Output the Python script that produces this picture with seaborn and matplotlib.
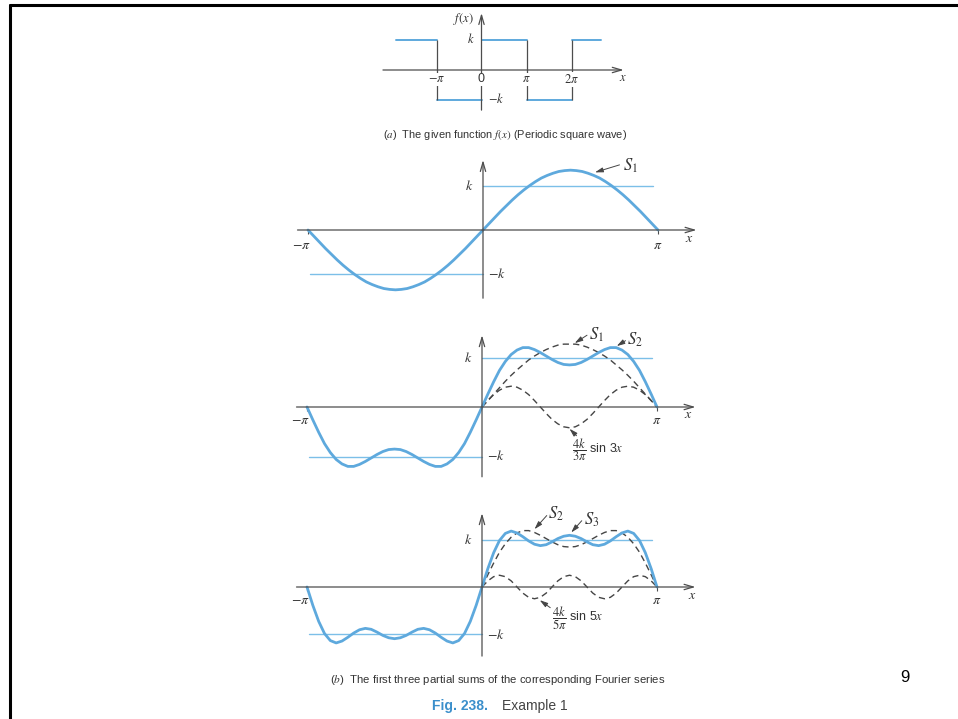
#!/usr/bin/env python3

import matplotlib
matplotlib.use("Agg")
import matplotlib.pyplot as plt
import numpy as np
import pandas as pd
import seaborn as sns

# --- values (x in units of pi, y in units of k) ---

# (a) square wave: horizontal pieces and jump positions
sq_start = [-1.9, -1, 0, 1, 2]
sq_end = [-1, 0, 1, 2, 2.65]
sq_level = [1, -1, 1, -1, 1]
sq_jumps = [-1, 1, 2]

# sample positions for the curves
x_full = np.arange(-30, 31) / 30
x_half = np.arange(0, 31) / 30

# first panel of (b): S1 as drawn (its peak sits a bit above the true 4/pi)
s1_top = [0, -.14, -.28, -.42, -.55, -.68, -.80, -.91, -1.01, -1.10, -1.18, -1.24, -1.29, -1.33, -1.35,
          -1.36, -1.35, -1.33, -1.29, -1.24, -1.18, -1.10, -1.01, -.91, -.80, -.68, -.55, -.42, -.28, -.14,
          0, .14, .28, .42, .55, .68, .80, .91, 1.01, 1.10, 1.18, 1.24, 1.29, 1.33, 1.35,
          1.36, 1.35, 1.33, 1.29, 1.24, 1.18, 1.10, 1.01, .91, .80, .68, .55, .42, .28, .14, 0]

s2 = [0, -.26, -.51, -.74, -.92, -1.06, -1.15, -1.20, -1.20, -1.16, -1.10, -1.03, -.96, -.90, -.86,
      -.85, -.86, -.90, -.96, -1.03, -1.10, -1.16, -1.20, -1.20, -1.15, -1.06, -.92, -.74, -.51, -.26,
      0, .26, .51, .74, .92, 1.06, 1.15, 1.20, 1.20, 1.16, 1.10, 1.03, .96, .90, .86,
      .85, .86, .90, .96, 1.03, 1.10, 1.16, 1.20, 1.20, 1.15, 1.06, .92, .74, .51, .26, 0]

s3 = [0, -.39, -.73, -.99, -1.14, -1.19, -1.15, -1.07, -.98, -.91, -.88, -.90, -.96, -1.03, -1.08,
      -1.10, -1.08, -1.03, -.96, -.90, -.88, -.91, -.98, -1.07, -1.15, -1.19, -1.14, -.99, -.73, -.39,
      0, .39, .73, .99, 1.14, 1.19, 1.15, 1.07, .98, .91, .88, .90, .96, 1.03, 1.08,
      1.10, 1.08, 1.03, .96, .90, .88, .91, .98, 1.07, 1.15, 1.19, 1.14, .99, .73, .39, 0]

# dashed curves, drawn only on [0, pi]
s1_half = [0, .13, .26, .39, .52, .64, .75, .85, .95, 1.03, 1.10, 1.16, 1.21, 1.25, 1.27,
           1.27, 1.27, 1.25, 1.21, 1.16, 1.10, 1.03, .95, .85, .75, .64, .52, .39, .26, .13, 0]
term3 = [0, .13, .25, .34, .40, .42, .40, .34, .25, .13, 0, -.13, -.25, -.34, -.40,
         -.42, -.40, -.34, -.25, -.13, 0, .13, .25, .34, .40, .42, .40, .34, .25, .13, 0]
s2_half = [0, .26, .51, .74, .92, 1.06, 1.15, 1.20, 1.20, 1.16, 1.10, 1.03, .96, .90, .86,
           .85, .86, .90, .96, 1.03, 1.10, 1.16, 1.20, 1.20, 1.15, 1.06, .92, .74, .51, .26, 0]
term5 = [0, .13, .22, .25, .22, .13, 0, -.13, -.22, -.25, -.22, -.13, 0, .13, .22,
         .25, .22, .13, 0, -.13, -.22, -.25, -.22, -.13, 0, .13, .22, .25, .22, .13, 0]

BLUE = "#5ea9dd"
KBLUE = "#7cbfe8"
AXIS = "#4d4d4d"
DASH = "#454545"
TXT = "#333333"

W, H = 958, 719

sns.set_theme(style="white")
plt.rcParams["mathtext.fontset"] = "stix"
plt.rcParams["font.family"] = ["Liberation Sans", "DejaVu Sans"]

fig = plt.figure(figsize=(W / 100, H / 100), dpi=100)
fig.patch.set_facecolor("white")


def panel(ox, oy, sx, sy, xlim, ylim):
    # place an axes so that data (0,0) lands on pixel (ox, oy)
    left = ox + xlim[0] * sx
    right = ox + xlim[1] * sx
    top = oy - ylim[1] * sy
    bottom = oy - ylim[0] * sy
    ax = fig.add_axes([left / W, 1 - bottom / H, (right - left) / W, (bottom - top) / H])
    ax.set_xlim(xlim)
    ax.set_ylim(ylim)
    ax.axis("off")
    return ax


def arrow_axes(ax, x0, x1, y0, y1):
    style = dict(arrowstyle="->,head_length=0.55,head_width=0.16", color=AXIS, lw=0.9,
                 shrinkA=0, shrinkB=0)
    ax.annotate("", xy=(x1, 0), xytext=(x0, 0), arrowprops=style)
    ax.annotate("", xy=(0, y1), xytext=(0, y0), arrowprops=style)


def pointer(ax, label, txt_xy, tail, head, size=12):
    ax.annotate("", xy=head, xytext=tail,
                arrowprops=dict(arrowstyle="-|>,head_length=0.4,head_width=0.12", color=DASH,
                                lw=0.7, shrinkA=0, shrinkB=0))
    ax.text(txt_xy[0], txt_xy[1], label, fontsize=size, color=TXT, ha="left", va="center")


def math_labels(ax, ky, mky, piy, xlab):
    ax.text(-0.055, ky, "$k$", fontsize=10, color=TXT, ha="right", va="center")
    ax.text(0.03, mky, "$-k$", fontsize=10, color=TXT, ha="left", va="center")
    ax.text(-1.04, piy, r"$-\pi$", fontsize=10, color=TXT, ha="center", va="center")
    ax.text(1.0, piy, r"$\pi$", fontsize=10, color=TXT, ha="center", va="center")
    ax.text(xlab[0], xlab[1], "$x$", fontsize=10, color=TXT, ha="center", va="center")


def k_lines(ax):
    sns.lineplot(x=[0, 0.97], y=[1, 1], ax=ax, color=KBLUE, lw=1.0)
    sns.lineplot(x=[-0.99, 0], y=[-1, -1], ax=ax, color=KBLUE, lw=1.0)
    ax.vlines([-1, 1], -0.09, 0, color=AXIS, lw=0.8)


def dashed(ax, y):
    sns.lineplot(x=x_half, y=y, ax=ax, color=DASH, lw=1.0, estimator=None, sort=False)
    ax.lines[-1].set_dashes([4.5, 3])


# ---- (a) periodic square wave ----
ax_a = panel(481.5, 70, 45, 29.5, (-2.5, 3.4), (-1.5, 2.1))
arrow_axes(ax_a, -2.19, 3.16, -1.36, 1.93)
sq = pd.DataFrame({
    "x": [v for a, b in zip(sq_start, sq_end) for v in (a, b)],
    "y": [v for lv in sq_level for v in (lv, lv)],
    "seg": [i for i in range(len(sq_level)) for _ in (0, 1)],
})
sns.lineplot(data=sq, x="x", y="y", units="seg", estimator=None, ax=ax_a, color=BLUE, lw=1.4)
ax_a.vlines(sq_jumps, -1, 1, color=AXIS, lw=0.9)
ax_a.text(-0.4, 1.73, "$f(x)$", fontsize=9, color=TXT, ha="center", va="center")
ax_a.text(-0.14, 1.05, "$k$", fontsize=9, color=TXT, ha="right", va="center")
ax_a.text(0.14, -0.98, "$-k$", fontsize=9, color=TXT, ha="left", va="center")
for xv, lab in zip([-1, 0, 1, 2], [r"$-\pi$", "0", r"$\pi$", r"$2\pi$"]):
    ax_a.text(xv, -0.32, lab, fontsize=9, color=TXT, ha="center", va="center",
              bbox=dict(facecolor="white", edgecolor="none", pad=0.6))
ax_a.text(3.15, -0.27, "$x$", fontsize=9, color=TXT, ha="center", va="center")

# ---- (b) top: S1 ----
ax1 = panel(483, 230, 175, 44, (-1.15, 1.3), (-1.7, 1.75))
arrow_axes(ax1, -1.06, 1.22, -1.55, 1.59)
k_lines(ax1)
sns.lineplot(x=x_full, y=s1_top, ax=ax1, color=BLUE, lw=2.0, estimator=None, sort=False)
math_labels(ax1, 1.0, -1.0, -0.33, (1.18, -0.18))
pointer(ax1, "$S_1$", (0.8, 1.45), (0.78, 1.48), (0.64, 1.31))

# ---- (b) middle: S2 ----
ax2 = panel(482, 407, 175, 49.5, (-1.15, 1.3), (-1.55, 1.6))
arrow_axes(ax2, -1.06, 1.22, -1.41, 1.45)
k_lines(ax2)
dashed(ax2, s1_half)
dashed(ax2, term3)
sns.lineplot(x=x_full, y=s2, ax=ax2, color=BLUE, lw=2.0, estimator=None, sort=False)
math_labels(ax2, 0.99, -1.0, -0.27, (1.18, -0.14))
pointer(ax2, "$S_1$", (0.61, 1.46), (0.6, 1.45), (0.53, 1.29))
pointer(ax2, "$S_2$", (0.83, 1.36), (0.82, 1.34), (0.77, 1.23))
pointer(ax2, r"$\dfrac{4k}{3\pi}$ sin 3$x$", (0.515, -0.85), (0.54, -0.58), (0.5, -0.44), size=9)

# ---- (b) bottom: S3 ----
ax3 = panel(482, 587, 175, 47, (-1.15, 1.3), (-1.6, 1.7))
arrow_axes(ax3, -1.06, 1.22, -1.47, 1.57)
k_lines(ax3)
dashed(ax3, s2_half)
dashed(ax3, term5)
sns.lineplot(x=x_full, y=s3, ax=ax3, color=BLUE, lw=2.0, estimator=None, sort=False)
math_labels(ax3, 1.0, -1.02, -0.28, (1.2, -0.17))
pointer(ax3, "$S_2$", (0.38, 1.55), (0.37, 1.52), (0.3, 1.23))
pointer(ax3, "$S_3$", (0.58, 1.43), (0.57, 1.41), (0.51, 1.16))
pointer(ax3, r"$\dfrac{4k}{5\pi}$ sin 5$x$", (0.4, -0.66), (0.39, -0.44), (0.33, -0.28), size=9)

# ---- captions, slide frame ----
def ftext(x, y, s, **kw):
    fig.text(x / W, 1 - y / H, s, **kw)


ftext(505, 135, r"($a$)  The given function $f(x)$ (Periodic square wave)", fontsize=7.9,
      color=TXT, ha="center", va="center")
ftext(498, 680, r"($b$)  The first three partial sums of the corresponding Fourier series",
      fontsize=8.2, color=TXT, ha="center", va="center")
ftext(488, 706, "Fig. 238.", fontsize=10, color="#3b8fcb", fontweight="bold", ha="right", va="center")
ftext(502, 706, "Example 1", fontsize=10, color="#444444", ha="left", va="center")
ftext(905, 677, "9", fontsize=12, color="black", ha="center", va="center")

fig.add_artist(plt.Line2D([10 / W, 1], [1 - 5 / H, 1 - 5 / H], color="black", lw=2.2))
fig.add_artist(plt.Line2D([10 / W, 10 / W], [0, 1 - 5 / H], color="black", lw=2.2))

fig.savefig("out.png", dpi=100)
